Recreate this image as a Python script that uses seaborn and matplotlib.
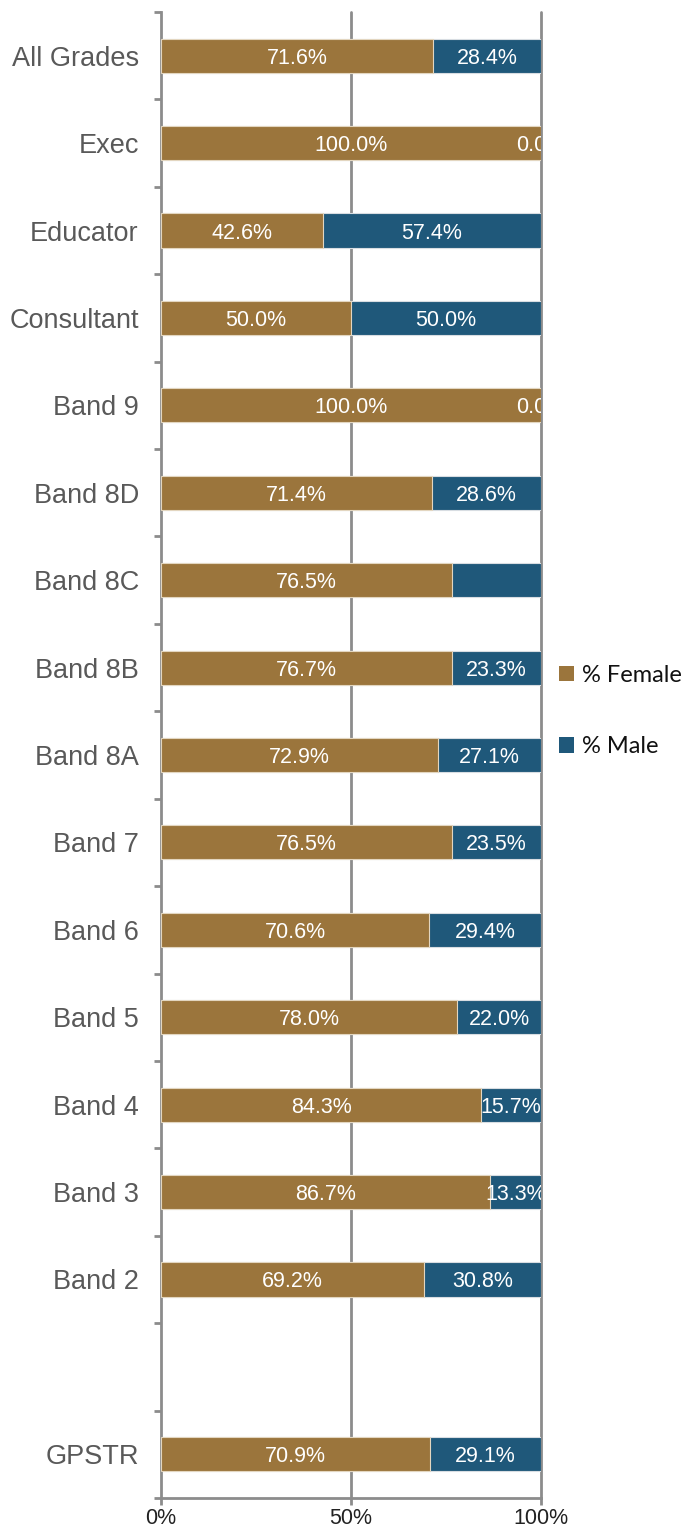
import pandas as pd
import matplotlib.pyplot as plt
import seaborn as sns
from matplotlib.patches import Patch

# Chart data
grades = ['All Grades', 'Exec', 'Educator', 'Consultant', 'Band 9', 'Band 8D', 'Band 8C',
          'Band 8B', 'Band 8A', 'Band 7', 'Band 6', 'Band 5', 'Band 4', 'Band 3', 'Band 2',
          ' ', 'GPSTR']
female_pct = [71.6, 100.0, 42.6, 50.0, 100.0, 71.4, 76.5, 76.7, 72.9, 76.5, 70.6, 78.0,
              84.3, 86.7, 69.2, None, 70.9]
male_pct = [28.4, 0.0, 57.4, 50.0, 0.0, 28.6, 23.5, 23.3, 27.1, 23.5, 29.4, 22.0,
            15.7, 13.3, 30.8, None, 29.1]
# the male label for Band 8C is not shown in the original
show_male_label = [True] * 17
show_male_label[6] = False

FEMALE = '#9B753C'
MALE = '#1F587A'
GREY = '#8C8C8C'

df = pd.DataFrame({'Grade': grades, 'Female': female_pct, 'Male': male_pct})
df = df.dropna()
df['Total'] = df['Female'] + df['Male']

sns.set_style('white')
plt.rcParams['font.family'] = ['Liberation Sans', 'DejaVu Sans']

fig = plt.figure(figsize=(6.88, 15.32), dpi=100)
ax = fig.add_axes([161 / 688, 1 - 1498 / 1532, 380 / 688, 1486 / 1532])

# stacked bars: full bar in male colour, female share drawn over it
sns.barplot(data=df, x='Total', y='Grade', order=grades, orient='h', color=MALE,
            width=0.39, edgecolor='#d8dde2', linewidth=0.8, saturation=1, ax=ax, zorder=2)
sns.barplot(data=df, x='Female', y='Grade', order=grades, orient='h', color=FEMALE,
            width=0.39, edgecolor='#e3d6c0', linewidth=0.8, saturation=1, ax=ax, zorder=3)

# value labels
for i, g in enumerate(grades):
    f = female_pct[i]
    m = male_pct[i]
    if f is None:
        continue
    ax.text(f / 2, i, f'{f:.1f}%', ha='center', va='center_baseline', color='white',
            fontsize=15.5, zorder=5, clip_on=True)
    if show_male_label[i]:
        ax.text(f + m / 2, i, f'{m:.1f}%', ha='center', va='center_baseline', color='white',
                fontsize=15.5, zorder=5, clip_on=True)

ax.set_xlim(0, 100)
ax.set_ylim(len(grades) - 0.5, -0.5)
ax.set_xlabel('')
ax.set_ylabel('')

# grid lines at 50% and 100%
for xv in [50, 100]:
    ax.axvline(xv, color=GREY, lw=2, zorder=1, clip_on=False)

sns.despine(ax=ax, top=True, right=True)
for s in ['left', 'bottom']:
    ax.spines[s].set_color(GREY)
    ax.spines[s].set_linewidth(2)

ax.set_xticks([0, 50, 100])
ax.set_xticklabels(['0%', '50%', '100%'])
ax.tick_params(axis='x', length=5, width=2, color=GREY, labelsize=15.5,
               labelcolor='#222222', pad=2, direction='out', bottom=True)

ax.set_yticks(range(len(grades)))
ax.set_yticklabels(grades)
ax.set_yticks([i - 0.5 for i in range(len(grades) + 1)], minor=True)
ax.tick_params(axis='y', which='major', length=0, labelsize=19.5, labelcolor='#595959', pad=16)
ax.tick_params(axis='y', which='minor', length=5, width=2, color=GREY, left=True, direction='out')

handles = [Patch(facecolor=FEMALE, edgecolor='none', label='% Female'),
           Patch(facecolor=MALE, edgecolor='none', label='% Male')]
fig.legend(handles=handles, loc='center left', bbox_to_anchor=(559 / 688, 1 - 711 / 1532),
           frameon=False, borderpad=0, borderaxespad=0, handlelength=0.62, handleheight=0.62,
           handletextpad=0.35, labelspacing=2.15, labelcolor='#111111',
           prop={'family': 'Lato', 'size': 17})

fig.savefig('out.png', dpi=100)
